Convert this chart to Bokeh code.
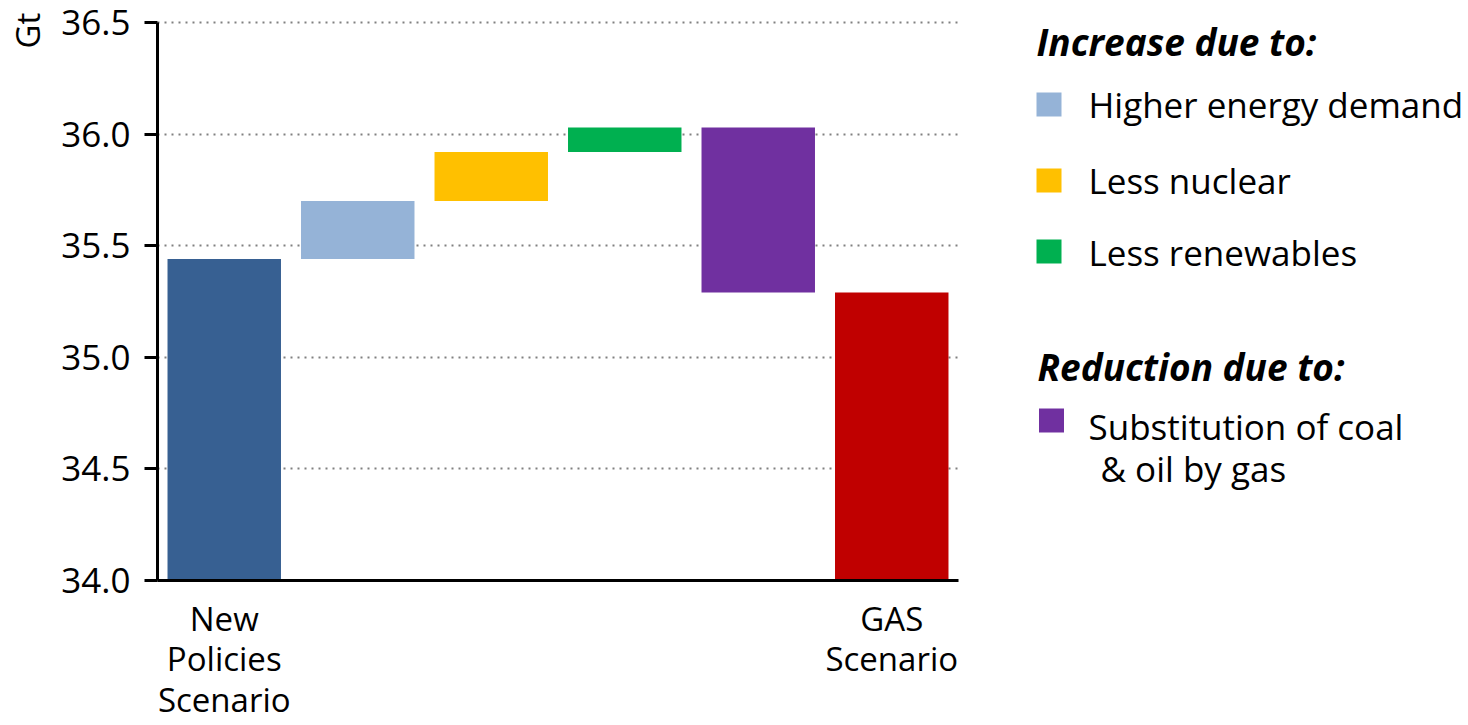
import numpy as np
from bokeh.plotting import figure
from bokeh.layouts import row
from bokeh.models import ColumnDataSource, Range1d, FixedTicker, NumeralTickFormatter
from bokeh.core.properties import value
from bokeh.embed import file_html
from bokeh.resources import INLINE

FONT = "Open Sans"

# Waterfall of CO2 emissions (Gt) between two scenarios
steps = ["New Policies Scenario", "Higher energy demand", "Less nuclear",
         "Less renewables", "Substitution of coal & oil by gas", "GAS Scenario"]
start_total = 35.44
changes = [0.26, 0.22, 0.11, -0.74]
end_total = 35.29
colors = ["#376092", "#95B3D7", "#FFC000", "#00B050", "#7030A0", "#C00000"]

y_ticks = [34.0, 34.5, 35.0, 35.5, 36.0, 36.5]
x_tick_labels = {0: "New\nPolicies\nScenario", 5: "GAS\nScenario"}

legend_increase = ["Higher energy demand", "Less nuclear", "Less renewables"]
legend_increase_colors = colors[1:4]
legend_reduction = ["Substitution of coal", "& oil by gas"]
legend_reduction_color = colors[4]

# bottoms / tops of each bar
levels = np.concatenate([[start_total], start_total + np.cumsum(changes)])
bottoms = [34.0] + [min(levels[i], levels[i + 1]) for i in range(len(changes))] + [34.0]
tops = [start_total] + [max(levels[i], levels[i + 1]) for i in range(len(changes))] + [end_total]

src = ColumnDataSource(dict(x=list(range(len(steps))), step=steps,
                            bottom=bottoms, top=tops, color=colors))

H = 725
TOP, BOTTOM = 8, 145          # canvas borders shared by all panels
AXIS_TOP_PX = 22              # pixel row where the 36.5 tick sits
y_lo, y_hi = y_ticks[0], y_ticks[-1]
gt_per_px = (y_hi - y_lo) / (H - BOTTOM - AXIS_TOP_PX)
y_top = y_hi + (AXIS_TOP_PX - TOP) * gt_per_px


def text_panel(w):
    f = figure(width=w, height=H, x_range=Range1d(0, w), y_range=Range1d(H - BOTTOM, TOP),
               output_backend="svg", toolbar_location=None,
               min_border_left=0, min_border_right=0,
               min_border_top=TOP, min_border_bottom=BOTTOM)
    f.axis.visible = False
    f.grid.visible = False
    f.outline_line_color = None
    return f


# unit label
gt = text_panel(50)
gt.text(x=[27], y=[30], text=["Gt"], angle=np.pi / 2, text_align="center",
        text_baseline="middle", text_font=value(FONT), text_font_size="33px",
        text_color="black")

# main waterfall
p = figure(x_range=Range1d(-0.5, len(steps) - 0.5),
           y_range=Range1d(y_lo, y_top),
           width=940, height=H, output_backend="svg", toolbar_location=None,
           min_border_left=107, min_border_right=32, min_border_top=TOP,
           min_border_bottom=BOTTOM)
p.vbar(x="x", bottom="bottom", top="top", width=0.85, color="color",
       line_color=None, source=src)

p.outline_line_color = None
p.xgrid.grid_line_color = None
p.ygrid.ticker = FixedTicker(ticks=y_ticks)
p.ygrid.grid_line_color = "#808080"
p.ygrid.grid_line_width = 2
p.ygrid.grid_line_dash = "2 5"

p.yaxis.ticker = FixedTicker(ticks=y_ticks)
p.yaxis.bounds = (y_lo, y_hi)
p.yaxis.formatter = NumeralTickFormatter(format="0.0")
p.yaxis.axis_line_width = 3
p.yaxis.major_tick_line_width = 3
p.yaxis.major_tick_out = 13
p.yaxis.major_tick_in = 0
p.yaxis.minor_tick_line_color = None
p.yaxis.major_label_text_font = FONT
p.yaxis.major_label_text_font_size = "35px"
p.yaxis.major_label_text_color = "black"
p.yaxis.major_label_standoff = 14

p.xaxis.ticker = FixedTicker(ticks=list(x_tick_labels))
p.xaxis.major_label_overrides = x_tick_labels
p.xaxis.axis_line_width = 3
p.xaxis.major_tick_line_color = None
p.xaxis.minor_tick_line_color = None
p.xaxis.major_label_text_font = FONT
p.xaxis.major_label_text_font_size = "33px"
p.xaxis.major_label_text_color = "black"
p.xaxis.major_label_text_line_height = 0.9
p.xaxis.major_label_standoff = 9

# legend panel
lg = text_panel(478)

head_src = ColumnDataSource(dict(x=[46, 47], y=[41, 366],
                                 t=["Increase due to:", "Reduction due to:"]))
lg.text(x="x", y="y", text="t", source=head_src, text_font=value(FONT),
        text_font_size="37px", text_font_style="bold italic",
        text_baseline="middle", text_color="black")

sq_src = ColumnDataSource(dict(x=[58.5, 58.5, 58.5, 61], y=[104, 180, 251, 420],
                               c=legend_increase_colors + [legend_reduction_color]))
lg.rect(x="x", y="y", width=25, height=24, fill_color="c", line_color=None, source=sq_src)

item_src = ColumnDataSource(dict(x=[98, 98, 98, 98, 110], y=[104, 180, 252, 426, 468],
                                 t=legend_increase + legend_reduction))
lg.text(x="x", y="y", text="t", source=item_src, text_font=value(FONT),
        text_font_size="35px", text_baseline="middle", text_color="black")

layout = row(gt, p, lg)
open("out.html", "w").write(file_html(layout, INLINE))
